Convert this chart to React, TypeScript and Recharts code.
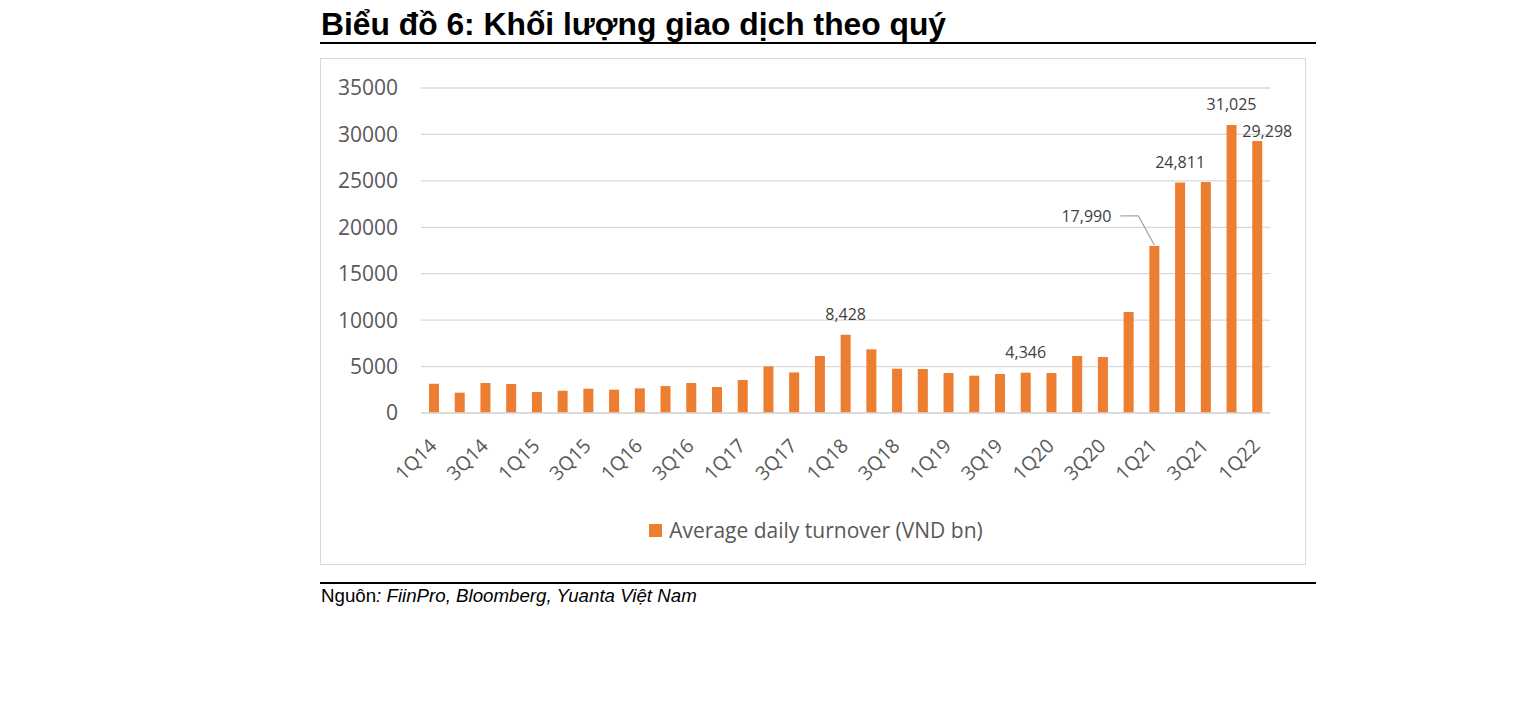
import React from 'react';
import { BarChart, Bar, XAxis, YAxis, CartesianGrid, Legend, LabelList } from 'recharts';

const quarters = [
  '1Q14', '2Q14', '3Q14', '4Q14',
  '1Q15', '2Q15', '3Q15', '4Q15',
  '1Q16', '2Q16', '3Q16', '4Q16',
  '1Q17', '2Q17', '3Q17', '4Q17',
  '1Q18', '2Q18', '3Q18', '4Q18',
  '1Q19', '2Q19', '3Q19', '4Q19',
  '1Q20', '2Q20', '3Q20', '4Q20',
  '1Q21', '2Q21', '3Q21', '4Q21',
  '1Q22',
];

const turnover = [
  3150, 2190, 3230, 3120,
  2260, 2400, 2620, 2510,
  2650, 2900, 3230, 2800,
  3550, 5020, 4370, 6140,
  8428, 6850, 4770, 4740,
  4310, 4020, 4200, 4346,
  4310, 6140, 6030, 10880,
  17990, 24811, 24880, 31025,
  29298,
];

const labeledQuarters = ['1Q18', '4Q19', '1Q21', '2Q21', '4Q21', '1Q22'];

const yTicks = [0, 5000, 10000, 15000, 20000, 25000, 30000, 35000];

const seriesName = 'Average daily turnover (VND bn)';

const data = quarters.map((q, i) => ({ q, v: turnover[i] }));

const ORANGE = '#ED7D31';
const GRID = '#d9d9d9';
const AXIS_TEXT = '#595959';
const LABEL_TEXT = '#404040';
const FONT = '"Open Sans", sans-serif';

const fmt = (n: number) => n.toLocaleString('en-US');

const XTick = (props: any) => {
  const { x, y, payload } = props;
  return (
    <g transform={`translate(${x + 4},${y + 26})`}>
      <text
        x={0}
        y={0}
        transform="rotate(-45)"
        textAnchor="end"
        fill={AXIS_TEXT}
        fontSize={19.5}
        fontFamily={FONT}
      >
        {payload.value}
      </text>
    </g>
  );
};

const BarLabel = (props: any) => {
  const { x, y, width, value, index } = props;
  const q = quarters[index];
  if (!labeledQuarters.includes(q)) return null;
  const cx = x + width / 2;
  const common = {
    fill: LABEL_TEXT,
    fontSize: 16,
    fontFamily: FONT,
    dominantBaseline: 'central' as const,
  };
  if (q === '1Q21') {
    const ly = y - 30;
    return (
      <g>
        <polyline
          points={`${cx - 34},${ly} ${cx - 16},${ly} ${cx},${y - 1}`}
          fill="none"
          stroke="#a6a6a6"
          strokeWidth={1.3}
        />
        <text x={cx - 43} y={ly} textAnchor="end" {...common}>
          {fmt(value)}
        </text>
      </g>
    );
  }
  if (q === '1Q22') {
    return (
      <text x={cx + 10} y={y - 10} textAnchor="middle" {...common}>
        {fmt(value)}
      </text>
    );
  }
  return (
    <text x={cx} y={y - 21} textAnchor="middle" {...common}>
      {fmt(value)}
    </text>
  );
};

const LegendContent = () => (
  <div
    style={{
      width: '100%',
      display: 'flex',
      justifyContent: 'center',
      alignItems: 'center',
      paddingLeft: 6,
      boxSizing: 'border-box',
      height: 28,
    }}
  >
    <span
      style={{ display: 'inline-block', width: 13, height: 13, background: ORANGE, marginRight: 7 }}
    />
    <span style={{ fontFamily: FONT, fontSize: 21, color: AXIS_TEXT, lineHeight: '28px' }}>
      {seriesName}
    </span>
  </div>
);

export default function App() {
  return (
    <div
      style={{
        position: 'absolute',
        left: 0,
        top: 0,
        width: 1522,
        height: 716,
        background: '#fff',
        overflow: 'hidden',
      }}
    >
      <div
        style={{
          position: 'absolute',
          left: 321,
          top: 8,
          fontFamily: '"Liberation Sans", Arial, sans-serif',
          fontWeight: 'bold',
          fontSize: 31.8,
          lineHeight: '32px',
          color: '#000',
          whiteSpace: 'nowrap',
        }}
      >
        Biểu đồ 6: Khối lượng giao dịch theo quý
      </div>
      <div style={{ position: 'absolute', left: 320, top: 42, width: 996, height: 2, background: '#000' }} />

      <div
        style={{
          position: 'absolute',
          left: 320,
          top: 58,
          width: 986,
          height: 507,
          border: `1.5px solid ${GRID}`,
          boxSizing: 'border-box',
        }}
      />
      <div style={{ position: 'absolute', left: 320, top: 58 }}>
        <BarChart
          width={986}
          height={507}
          data={data}
          margin={{ top: 30, right: 36, left: 0, bottom: 21 }}
          barCategoryGap={0}
        >
          <CartesianGrid vertical={false} stroke={GRID} strokeWidth={1.3} />
          <XAxis
            dataKey="q"
            interval={1}
            tick={<XTick />}
            tickLine={false}
            tickSize={6}
            tickMargin={2}
            axisLine={{ stroke: GRID, strokeWidth: 1.5 }}
            height={103}
          />
          <YAxis
            domain={[0, 35000]}
            ticks={yTicks}
            width={101}
            axisLine={false}
            tickLine={false}
            tickSize={6}
            tickMargin={17}
            tick={{ fill: AXIS_TEXT, fontSize: 21, fontFamily: FONT }}
          />
          <Legend
            verticalAlign="bottom"
            height={28}
            content={<LegendContent />}
            wrapperStyle={{ left: 0, width: 986 }}
          />
          <Bar dataKey="v" name={seriesName} fill={ORANGE} barSize={10} isAnimationActive={false}>
            <LabelList dataKey="v" content={<BarLabel />} />
          </Bar>
        </BarChart>
      </div>

      <div style={{ position: 'absolute', left: 320, top: 582, width: 996, height: 2, background: '#000' }} />
      <div
        style={{
          position: 'absolute',
          left: 321,
          top: 585,
          fontFamily: '"Liberation Sans", Arial, sans-serif',
          fontSize: 18.7,
          lineHeight: '21px',
          color: '#000',
          whiteSpace: 'nowrap',
        }}
      >
        Nguôn<i>: FiinPro, Bloomberg, Yuanta Việt Nam</i>
      </div>
    </div>
  );
}
